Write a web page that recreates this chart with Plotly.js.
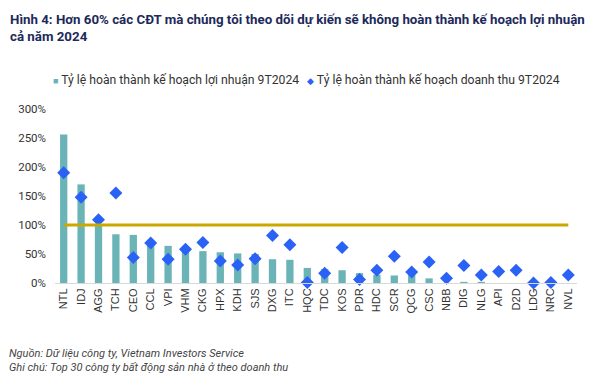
<!DOCTYPE html>
<html>
<head>
<meta charset="utf-8">
<script src="https://cdn.plot.ly/plotly-3.0.1.min.js"></script>
<style>html,body{margin:0;padding:0;background:#fff;}#chart{width:600px;height:373px;}</style>
</head>
<body>
<div id="chart"></div>
<script>
const companies = ["NTL","IDJ","AGG","TCH","CEO","CCL","VPI","VHM","CKG","HPX","KDH","SJS","DXG","ITC","HQC","TDC","KOS","PDR","HDC","SCR","QCG","CSC","NBB","DIG","NLG","API","D2D","LDG","NRC","NVL"];
const profitCompletion = [256,170,101,84,83,74,64,60,55,53,51,50,41,40,26,24,22,17,14,13,18,8,0,2,2,0,0,0,0,0];
const revenueCompletion = [190,148,109,155,44,69,41,58,70,38,31,42,82,66,1,17,61,6,22,46,19,36,8,30,14,20,22,0,1,14];
const targetLevel = 100;
const yTicks = [0,50,100,150,200,250,300];
const yTickText = yTicks.map(v => v + "%");

const titleText = "Hình 4: Hơn 60% các CĐT mà chúng tôi theo dõi dự kiến sẽ không hoàn thành kế hoạch lợi nhuận<br>cả năm 2024";
const profitName = "Tỷ lệ hoàn thành kế hoạch lợi nhuận 9T2024";
const revenueName = "Tỷ lệ hoàn thành kế hoạch doanh thu 9T2024";
const sourceText = "Nguồn: Dữ liệu công ty, Vietnam Investors Service";
const noteText = "Ghi chú: Top 30 công ty bất động sản nhà ở theo doanh thu";

const barColor = "#6ab4b8";
const diamondColor = "#2b62f6";

const traces = [
  {
    type: "bar", x: companies, y: profitCompletion, name: profitName,
    marker: {color: barColor}, showlegend: false
  },
  {
    type: "scatter", mode: "markers", x: companies, y: revenueCompletion, name: revenueName,
    marker: {symbol: "diamond", color: diamondColor, size: 10}, cliponaxis: false, showlegend: false
  },
  {
    type: "scatter", mode: "lines", x: [companies[0], companies[companies.length-1]],
    y: [targetLevel, targetLevel], showlegend: false,
    line: {color: "#c9a800", width: 3}, hoverinfo: "skip"
  }
];

const legendFont = {size: 12.2, color: "#333333", family: "Roboto, Arial, sans-serif"};

const layout = {
  width: 600, height: 373,
  margin: {l: 55, r: 23, t: 109, b: 90},
  paper_bgcolor: "#ffffff", plot_bgcolor: "#ffffff",
  font: {family: "Roboto, Arial, sans-serif", color: "#333333", size: 11},
  bargap: 0.58,
  showlegend: false,
  xaxis: {
    type: "category", tickangle: -90, tickfont: {size: 11, color: "#333333", family: "Arial, Liberation Sans, sans-serif"},
    showline: true, linecolor: "#d9d9d9", linewidth: 1, ticks: "", showgrid: false,
    range: [-0.5, companies.length - 0.5], fixedrange: true
  },
  yaxis: {
    range: [0, 300], tickvals: yTicks, ticktext: yTickText, showgrid: false,
    zeroline: false, showline: false, ticks: "", tickfont: {size: 11.5, color: "#333333"},
    ticklabelstandoff: 8
  },
  annotations: [
    {text: "<b>" + titleText + "</b>", xref: "paper", yref: "paper", x: -0.09, y: 1.57,
     xanchor: "left", yanchor: "top", align: "left", showarrow: false,
     font: {size: 13.3, color: "#1c2a5a", family: "Roboto, Arial, sans-serif"}},
    {text: "<span style='color:" + barColor + ";font-size:9px'>■</span> " + profitName,
     xref: "paper", yref: "paper", x: -0.008, y: 1.167,
     xanchor: "left", yanchor: "middle", showarrow: false, font: legendFont},
    {text: "<span style='color:" + diamondColor + ";font-size:9px'>◆</span> " + revenueName,
     xref: "paper", yref: "paper", x: 0.478, y: 1.167,
     xanchor: "left", yanchor: "middle", showarrow: false, font: legendFont},
    {text: "<i>" + sourceText + "</i>", xref: "paper", yref: "paper", x: -0.092, y: -0.355,
     xanchor: "left", yanchor: "top", align: "left", showarrow: false,
     font: {size: 11, color: "#444444"}},
    {text: "<i>" + noteText + "</i>", xref: "paper", yref: "paper", x: -0.092, y: -0.435,
     xanchor: "left", yanchor: "top", align: "left", showarrow: false,
     font: {size: 11, color: "#444444"}}
  ]
};

Plotly.newPlot("chart", traces, layout, {displayModeBar: false, staticPlot: true});
</script>
</body>
</html>
